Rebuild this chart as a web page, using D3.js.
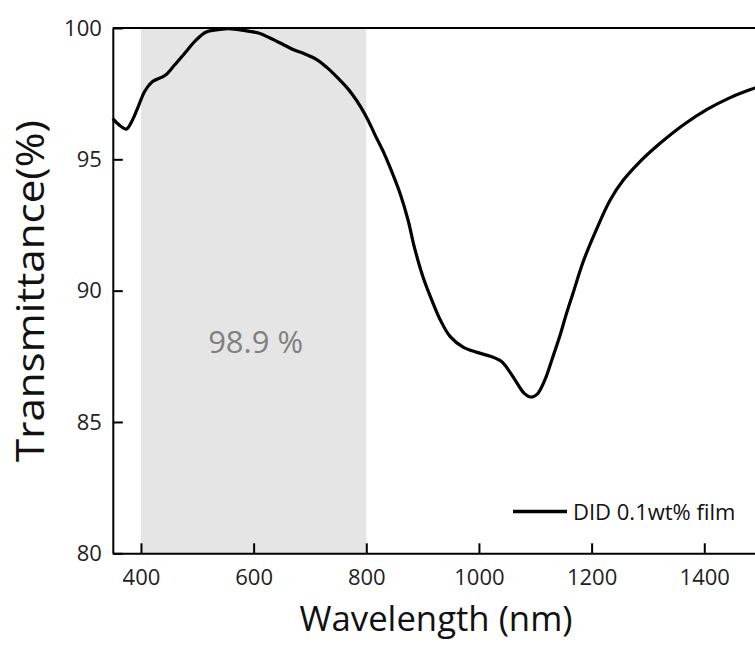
<!DOCTYPE html>
<html>
<head>
<meta charset="utf-8">
<script src="https://cdn.jsdelivr.net/npm/d3@7"></script>
<style>
  body { margin: 0; background: #fff; }
  text { font-family: "Open Sans", sans-serif; }
</style>
</head>
<body>
<svg id="chart" width="755" height="650"></svg>
<script>
// wavelength (nm) and transmittance (%)
const wavelength = [350, 362, 374, 385, 395, 407, 420, 443, 460, 478, 496, 514, 530, 550, 570, 590,
  610, 629, 650, 670, 690, 712, 730, 748, 766, 776, 790, 803, 815, 830, 842, 860, 874, 886, 901,
  917, 931, 949, 972, 997, 1020, 1040, 1055, 1067, 1080, 1092, 1103, 1117, 1130, 1144, 1155, 1167,
  1185, 1210, 1233, 1256, 1283, 1321, 1362, 1405, 1446, 1490, 1500];
const transmittance = [96.55, 96.3, 96.15, 96.5, 97.0, 97.6, 97.95, 98.2, 98.6, 99.05, 99.5, 99.83,
  99.92, 99.97, 99.95, 99.88, 99.8, 99.62, 99.4, 99.18, 99.02, 98.8, 98.5, 98.13, 97.72, 97.45, 97.0,
  96.5, 95.95, 95.3, 94.7, 93.7, 92.7, 91.6, 90.5, 89.6, 88.9, 88.25, 87.85, 87.65, 87.5, 87.3, 86.9,
  86.5, 86.1, 85.95, 86.05, 86.6, 87.4, 88.3, 89.1, 89.9, 91.1, 92.4, 93.45, 94.2, 94.85, 95.6,
  96.3, 96.9, 97.35, 97.72, 97.8];
const xTicks = [400, 600, 800, 1000, 1200, 1400];
const yTicks = [80, 85, 90, 95, 100];
const band = [400, 800];
const bandLabel = "98.9 %";
const seriesName = "DID 0.1wt% film";

const data = wavelength.map((w, i) => ({w, t: transmittance[i]}));

const svg = d3.select('#chart');

const x = d3.scaleLinear().domain([350, 1500]).range([112.8, 760.6]);
const y = d3.scaleLinear().domain([80, 100]).range([553.3, 28]);

// shaded visible range
svg.append('rect')
  .attr('x', x(band[0]))
  .attr('y', y(100))
  .attr('width', x(band[1]) - x(band[0]))
  .attr('height', y(80) - y(100))
  .attr('fill', '#e6e5e6');

svg.append('text')
  .attr('x', (x(band[0]) + x(band[1])) / 2 + 2)
  .attr('y', 353)
  .attr('text-anchor', 'middle')
  .attr('font-size', 31)
  .attr('fill', '#808080')
  .text(bandLabel);

// top frame line
svg.append('line')
  .attr('x1', x(350)).attr('x2', x(1500))
  .attr('y1', y(100)).attr('y2', y(100))
  .attr('stroke', '#000').attr('stroke-width', 2);

const xAxis = svg.append('g')
  .attr('transform', `translate(0, ${y(80)})`)
  .call(d3.axisBottom(x).tickValues(xTicks).tickFormat(d3.format('d'))
    .tickSizeInner(-10).tickSizeOuter(0).tickPadding(16));

const yAxis = svg.append('g')
  .attr('transform', `translate(${x(350)}, 0)`)
  .call(d3.axisLeft(y).tickValues(yTicks).tickFormat(d3.format('d'))
    .tickSizeInner(-10).tickSizeOuter(0).tickPadding(11));

[xAxis, yAxis].forEach(g => {
  g.select('.domain').attr('stroke', '#000').attr('stroke-width', 2);
  g.selectAll('.tick line').attr('stroke', '#000').attr('stroke-width', 2);
  g.selectAll('.tick text').attr('font-size', 22).attr('fill', '#222')
    .style('font-family', '"Open Sans", sans-serif');
});

// spectrum
svg.append('path')
  .datum(data)
  .attr('fill', 'none')
  .attr('stroke', '#000')
  .attr('stroke-width', 3.2)
  .attr('stroke-linejoin', 'round')
  .attr('d', d3.line().x(d => x(d.w)).y(d => y(d.t)).curve(d3.curveCatmullRom));

// legend
svg.append('line')
  .attr('x1', 513).attr('x2', 567)
  .attr('y1', 511.5).attr('y2', 511.5)
  .attr('stroke', '#000').attr('stroke-width', 3.5);

svg.append('text')
  .attr('x', 573)
  .attr('y', 519.5)
  .attr('font-size', 22)
  .attr('fill', '#111')
  .text(seriesName);

// axis titles
svg.append('text')
  .attr('x', 436)
  .attr('y', 631)
  .attr('text-anchor', 'middle')
  .attr('font-size', 34)
  .attr('fill', '#111')
  .attr('textLength', 273)
  .attr('lengthAdjust', 'spacingAndGlyphs')
  .text('Wavelength (nm)');

svg.append('text')
  .attr('transform', 'translate(44, 291) rotate(-90)')
  .attr('text-anchor', 'middle')
  .attr('font-size', 39)
  .attr('fill', '#111')
  .attr('textLength', 342)
  .attr('lengthAdjust', 'spacingAndGlyphs')
  .text('Transmittance(%)');
</script>
</body>
</html>
